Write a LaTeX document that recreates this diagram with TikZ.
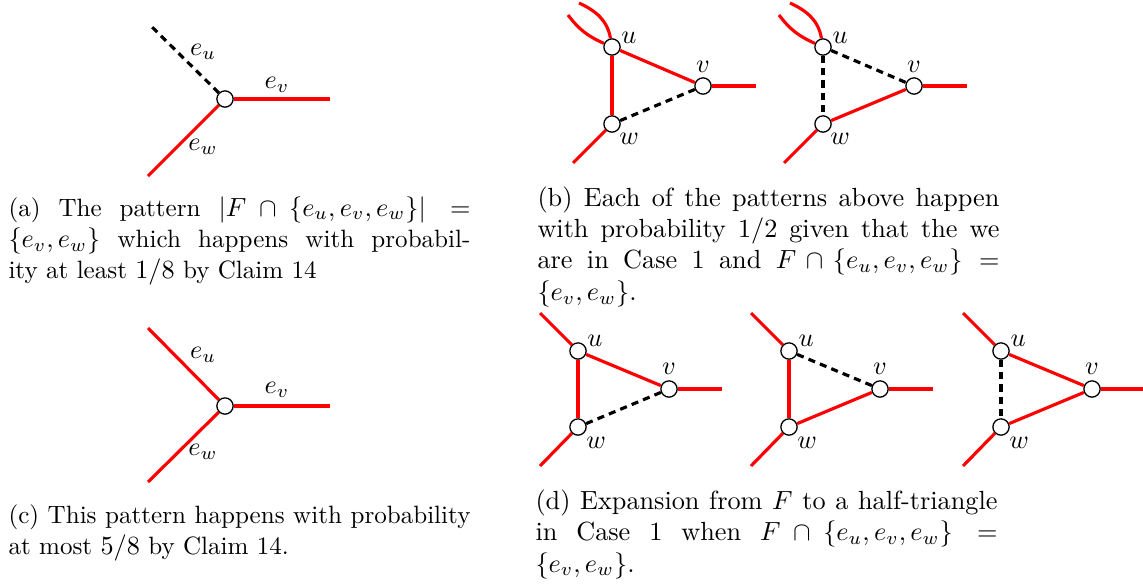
\documentclass[tikz,border=0pt]{standalone}
\usepackage{amsmath,amssymb}
\usepackage{tikz}
\usetikzlibrary{positioning}

\begin{document}
\begin{tikzpicture}[
    x=0.381pt, y=-0.381pt,
    vtx/.style={circle, draw, fill=white, inner sep=0pt, minimum size=6.2pt, line width=0.5pt},
    redge/.style={red, line width=1.2pt},
    dedge/.style={black, line width=1.2pt, dash pattern=on 2.7pt off 2pt},
    elbl/.style={inner sep=0pt},
    capt/.style={anchor=base west, inner sep=0pt, text width=176pt, align=justify},
    capl/.style={capt, font=\fontsize{9.55}{12}\selectfont}
]
\useasboundingbox (0,0) rectangle (1143,586);

% (a) single vertex, e_u not in F
\node[vtx] (a) at (225,99) {};
\coordinate (aU) at (152,27);
\coordinate (aV) at (330,99);
\coordinate (aW) at (148,176);
\draw[dedge] (a) -- (aU);
\draw[redge] (a) -- (aV);
\draw[redge] (a) -- (aW);
\node[elbl] at (203,52) {$e_u$};
\node[elbl] at (277,85) {$e_v$};
\node[elbl] at (203,147) {$e_w$};
\node[capl] (capa) at (8,216) {(a) The pattern $|F \cap \{e_u, e_v, e_w\}| =$\linebreak $\{e_v, e_w\}$ which happens with probabil-\linebreak ity at least $1/8$ by Claim 14};

% (c) single vertex, all three in F
\node[vtx] (c) at (225,406) {};
\coordinate (cU) at (148,328);
\coordinate (cV) at (330,406);
\coordinate (cW) at (148,482);
\draw[redge] (c) -- (cU);
\draw[redge] (c) -- (cV);
\draw[redge] (c) -- (cW);
\node[elbl] at (203,355) {$e_u$};
\node[elbl] at (277,390) {$e_v$};
\node[elbl] at (203,452) {$e_w$};
\node[capl] (capc) at (8,523) {(c) This pattern happens with probability\linebreak at most $5/8$ by Claim 14.};

% (b) two triangles
\begin{scope}[shift={(612,47)}]
\node[vtx] (b1u) at (0,0) {};
\node[vtx] (b1v) at (91,39) {};
\node[vtx] (b1w) at (0,77) {};
\coordinate (b1a) at (-33,-44);
\coordinate (b1b) at (-44,-32);
\coordinate (b1r) at (144,39);
\coordinate (b1l) at (-39,116);
\draw[redge] (b1u) to[out=100, in=-25] (b1a);
\draw[redge] (b1u) to[out=156, in=-53] (b1b);
\draw[redge] (b1u) -- (b1v);
\draw[redge] (b1u) -- (b1w);
\draw[dedge] (b1w) -- (b1v);
\draw[redge] (b1v) -- (b1r);
\draw[redge] (b1w) -- (b1l);
\node[elbl] at (17,-9) {$u$};
\node[elbl] at (91,20) {$v$};
\node[elbl] at (17,92) {$w$};
\end{scope}

\begin{scope}[shift={(823,47)}]
\node[vtx] (b2u) at (0,0) {};
\node[vtx] (b2v) at (91,39) {};
\node[vtx] (b2w) at (0,77) {};
\coordinate (b2a) at (-33,-44);
\coordinate (b2b) at (-44,-32);
\coordinate (b2r) at (144,39);
\coordinate (b2l) at (-39,116);
\draw[redge] (b2u) to[out=100, in=-25] (b2a);
\draw[redge] (b2u) to[out=156, in=-53] (b2b);
\draw[dedge] (b2u) -- (b2v);
\draw[dedge] (b2u) -- (b2w);
\draw[redge] (b2w) -- (b2v);
\draw[redge] (b2v) -- (b2r);
\draw[redge] (b2w) -- (b2l);
\node[elbl] at (17,-9) {$u$};
\node[elbl] at (91,20) {$v$};
\node[elbl] at (17,92) {$w$};
\end{scope}
\node[capt] (capb) at (537,206) {(b) Each of the patterns above happen\linebreak with probability $1/2$ given that the we\linebreak are in Case 1 and $F \cap \{e_u, e_v, e_w\} =$\linebreak $\{e_v, e_w\}$.};

% (d) three half-triangles
\begin{scope}[shift={(578,351)}]
\node[vtx] (d1u) at (0,0) {};
\node[vtx] (d1v) at (91,38) {};
\node[vtx] (d1w) at (0,76) {};
\coordinate (d1t) at (-38,-38);
\coordinate (d1r) at (144,38);
\coordinate (d1l) at (-38,115);
\draw[redge] (d1u) -- (d1t);
\draw[redge] (d1u) -- (d1v);
\draw[redge] (d1u) -- (d1w);
\draw[dedge] (d1w) -- (d1v);
\draw[redge] (d1v) -- (d1r);
\draw[redge] (d1w) -- (d1l);
\node[elbl] at (17,-10) {$u$};
\node[elbl] at (91,18) {$v$};
\node[elbl] at (18,92) {$w$};
\end{scope}

\begin{scope}[shift={(789,351)}]
\node[vtx] (d2u) at (0,0) {};
\node[vtx] (d2v) at (91,38) {};
\node[vtx] (d2w) at (0,76) {};
\coordinate (d2t) at (-38,-38);
\coordinate (d2r) at (144,38);
\coordinate (d2l) at (-38,115);
\draw[redge] (d2u) -- (d2t);
\draw[dedge] (d2u) -- (d2v);
\draw[redge] (d2u) -- (d2w);
\draw[redge] (d2w) -- (d2v);
\draw[redge] (d2v) -- (d2r);
\draw[redge] (d2w) -- (d2l);
\node[elbl] at (17,-10) {$u$};
\node[elbl] at (91,18) {$v$};
\node[elbl] at (18,92) {$w$};
\end{scope}

\begin{scope}[shift={(1001,351)}]
\node[vtx] (d3u) at (0,0) {};
\node[vtx] (d3v) at (91,38) {};
\node[vtx] (d3w) at (0,76) {};
\coordinate (d3t) at (-38,-38);
\coordinate (d3r) at (144,38);
\coordinate (d3l) at (-38,115);
\draw[redge] (d3u) -- (d3t);
\draw[redge] (d3u) -- (d3v);
\draw[dedge] (d3u) -- (d3w);
\draw[redge] (d3w) -- (d3v);
\draw[redge] (d3v) -- (d3r);
\draw[redge] (d3w) -- (d3l);
\node[elbl] at (17,-10) {$u$};
\node[elbl] at (91,18) {$v$};
\node[elbl] at (18,92) {$w$};
\end{scope}
\node[capt] (capd) at (535,509) {(d) Expansion from $F$ to a half-triangle\linebreak in Case 1 when $F \cap \{e_u, e_v, e_w\} =$\linebreak $\{e_v, e_w\}$.};
\end{tikzpicture}
\end{document}
